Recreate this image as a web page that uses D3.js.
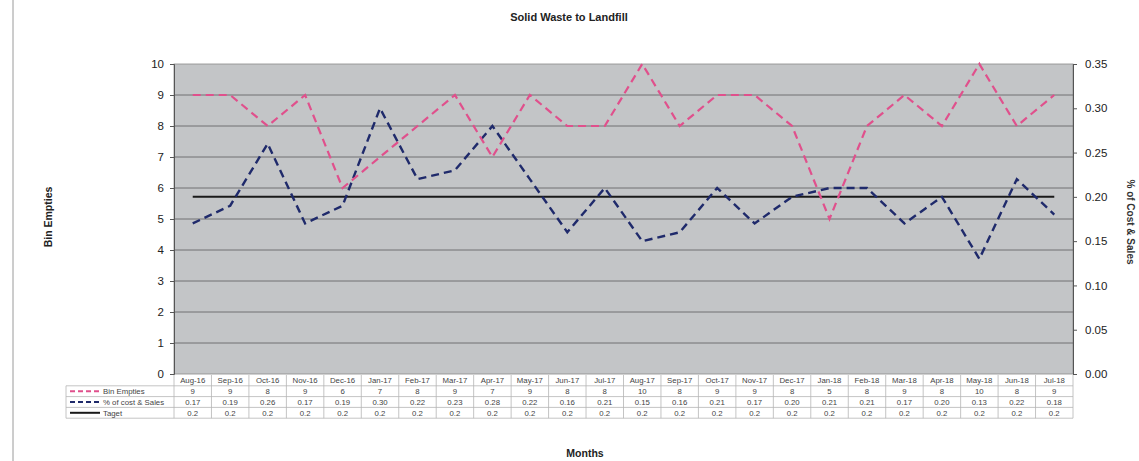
<!DOCTYPE html>
<html>
<head>
<meta charset="utf-8">
<script src="https://cdn.jsdelivr.net/npm/d3@7"></script>
<style>
  body { margin: 0; background: #fff; }
  svg { font-family: "Liberation Sans", Arial, sans-serif; }
</style>
</head>
<body>
<svg id="canvas"></svg>
<script>
// data
const months = ["Aug-16","Sep-16","Oct-16","Nov-16","Dec-16","Jan-17","Feb-17","Mar-17","Apr-17","May-17","Jun-17","Jul-17",
                "Aug-17","Sep-17","Oct-17","Nov-17","Dec-17","Jan-18","Feb-18","Mar-18","Apr-18","May-18","Jun-18","Jul-18"];
const binEmpties = [9,9,8,9,6,7,8,9,7,9,8,8,10,8,9,9,8,5,8,9,8,10,8,9];
const costSales = [0.17,0.19,0.26,0.17,0.19,0.30,0.22,0.23,0.28,0.22,0.16,0.21,0.15,0.16,0.21,0.17,0.20,0.21,0.21,0.17,0.20,0.13,0.22,0.18];
const target = months.map(() => 0.2);
const leftTicks = [0,1,2,3,4,5,6,7,8,9,10];
const rightTicks = [0,0.05,0.10,0.15,0.20,0.25,0.30,0.35];

const W = 1139, H = 461;
const svg = d3.select("#canvas").attr("width", W).attr("height", H);

const plot = {left: 174, right: 1073, top: 64, bottom: 374};

const x = d3.scaleBand().domain(months).range([plot.left, plot.right]);
const yL = d3.scaleLinear().domain([0, 10]).range([plot.bottom, plot.top]);
const yR = d3.scaleLinear().domain([0, 0.35]).range([plot.bottom, plot.top]);

// page border line on the left
svg.append("line").attr("x1", 13).attr("x2", 13).attr("y1", 0).attr("y2", H)
  .attr("stroke", "#9a9a9a").attr("stroke-width", 1);

// title
svg.append("text").attr("x", 569).attr("y", 21).attr("text-anchor", "middle")
  .attr("font-size", 11).attr("font-weight", "bold").attr("fill", "#222")
  .text("Solid Waste to Landfill");

// plot background
svg.append("rect").attr("x", plot.left).attr("y", plot.top)
  .attr("width", plot.right - plot.left).attr("height", plot.bottom - plot.top)
  .attr("fill", "#c3c5c7").attr("stroke", "#8a8a8a").attr("stroke-width", 0.8);

// gridlines
svg.append("g").selectAll("line").data(leftTicks.slice(1, -1)).enter().append("line")
  .attr("x1", plot.left).attr("x2", plot.right)
  .attr("y1", d => yL(d)).attr("y2", d => yL(d))
  .attr("stroke", "#66686a").attr("stroke-width", 0.9);

// left axis
const axL = svg.append("g").attr("transform", `translate(${plot.left},0)`)
  .call(d3.axisLeft(yL).tickValues(leftTicks).tickSize(4).tickPadding(6));
axL.select(".domain").attr("stroke", "#555");
axL.selectAll("line").attr("stroke", "#555");
axL.selectAll("text").attr("font-size", 11.5).attr("fill", "#222").attr("font-family", "Liberation Sans, Arial");

// right axis
const axR = svg.append("g").attr("transform", `translate(${plot.right},0)`)
  .call(d3.axisRight(yR).tickValues(rightTicks).tickFormat(d3.format(".2f")).tickSize(4).tickPadding(8));
axR.select(".domain").attr("stroke", "#555");
axR.selectAll("line").attr("stroke", "#555");
axR.selectAll("text").attr("font-size", 11.5).attr("fill", "#222").attr("font-family", "Liberation Sans, Arial");

// axis titles
svg.append("text").attr("transform", "translate(52,217) rotate(-90)")
  .attr("text-anchor", "middle").attr("font-size", 10.5).attr("font-weight", "bold").attr("fill", "#222")
  .text("Bin Empties");
svg.append("text").attr("transform", "translate(1127,222) rotate(90)")
  .attr("text-anchor", "middle").attr("font-size", 10).attr("font-weight", "bold").attr("fill", "#333")
  .text("% of Cost & Sales");
svg.append("text").attr("x", 585).attr("y", 457).attr("text-anchor", "middle")
  .attr("font-size", 10.5).attr("font-weight", "bold").attr("fill", "#222")
  .text("Months");

const cx = d => x(d) + x.bandwidth() / 2;

// lines
const lineL = d3.line().x((d, i) => cx(months[i])).y(d => yL(d));
const lineR = d3.line().x((d, i) => cx(months[i])).y(d => yR(d));

svg.append("path").datum(target).attr("d", lineR).attr("fill", "none")
  .attr("stroke", "#1a1a1a").attr("stroke-width", 2);
svg.append("path").datum(costSales).attr("d", lineR).attr("fill", "none")
  .attr("stroke", "#1f2a6b").attr("stroke-width", 2.4).attr("stroke-dasharray", "8,5");
svg.append("path").datum(binEmpties).attr("d", lineL).attr("fill", "none")
  .attr("stroke", "#e0508c").attr("stroke-width", 2.2).attr("stroke-dasharray", "8,5");

// data table
const tTop = 375, rowH = 10.8, legLeft = 66;
const rows = [
  {name: "Bin Empties", vals: binEmpties.map(String), color: "#e0508c", dash: "5,3"},
  {name: "% of cost & Sales", vals: costSales.map(d => d.toFixed(2)), color: "#1f2a6b", dash: "5,3"},
  {name: "Taget", vals: target.map(d => d.toFixed(1)), color: "#1a1a1a", dash: null}
];
const tbl = svg.append("g");
const gridCol = "#b5b5b5";

// header row (months)
tbl.selectAll(".hdr").data(months).enter().append("text")
  .attr("x", d => cx(d)).attr("y", tTop + rowH / 2 + 3)
  .attr("text-anchor", "middle").attr("font-size", 7.8).attr("fill", "#444").text(d => d);

// vertical cell borders
tbl.selectAll(".vb").data(months.slice(1)).enter().append("line")
  .attr("x1", d => x(d)).attr("x2", d => x(d))
  .attr("y1", tTop).attr("y2", tTop + rowH * 4)
  .attr("stroke", gridCol).attr("stroke-width", 0.8);
[legLeft, plot.left, plot.right].forEach(v => {
  tbl.append("line").attr("x1", v).attr("x2", v)
    .attr("y1", v === legLeft ? tTop + rowH : tTop).attr("y2", tTop + rowH * 4)
    .attr("stroke", gridCol).attr("stroke-width", 0.8);
});
// horizontal borders
[1, 2, 3, 4].forEach(r => {
  tbl.append("line").attr("x1", legLeft).attr("x2", plot.right)
    .attr("y1", tTop + rowH * r).attr("y2", tTop + rowH * r)
    .attr("stroke", gridCol).attr("stroke-width", 0.8);
});

rows.forEach((row, r) => {
  const yMid = tTop + rowH * (r + 1) + rowH / 2;
  tbl.append("line").attr("x1", legLeft + 4).attr("x2", legLeft + 34)
    .attr("y1", yMid).attr("y2", yMid)
    .attr("stroke", row.color).attr("stroke-width", 2)
    .attr("stroke-dasharray", row.dash);
  tbl.append("text").attr("x", legLeft + 37).attr("y", yMid + 2.8)
    .attr("font-size", 7.8).attr("fill", "#444").text(row.name);
  tbl.selectAll(null).data(row.vals).enter().append("text")
    .attr("x", (d, i) => cx(months[i])).attr("y", yMid + 2.8)
    .attr("text-anchor", "middle").attr("font-size", 7.8).attr("fill", "#444").text(d => d);
});
</script>
</body>
</html>
